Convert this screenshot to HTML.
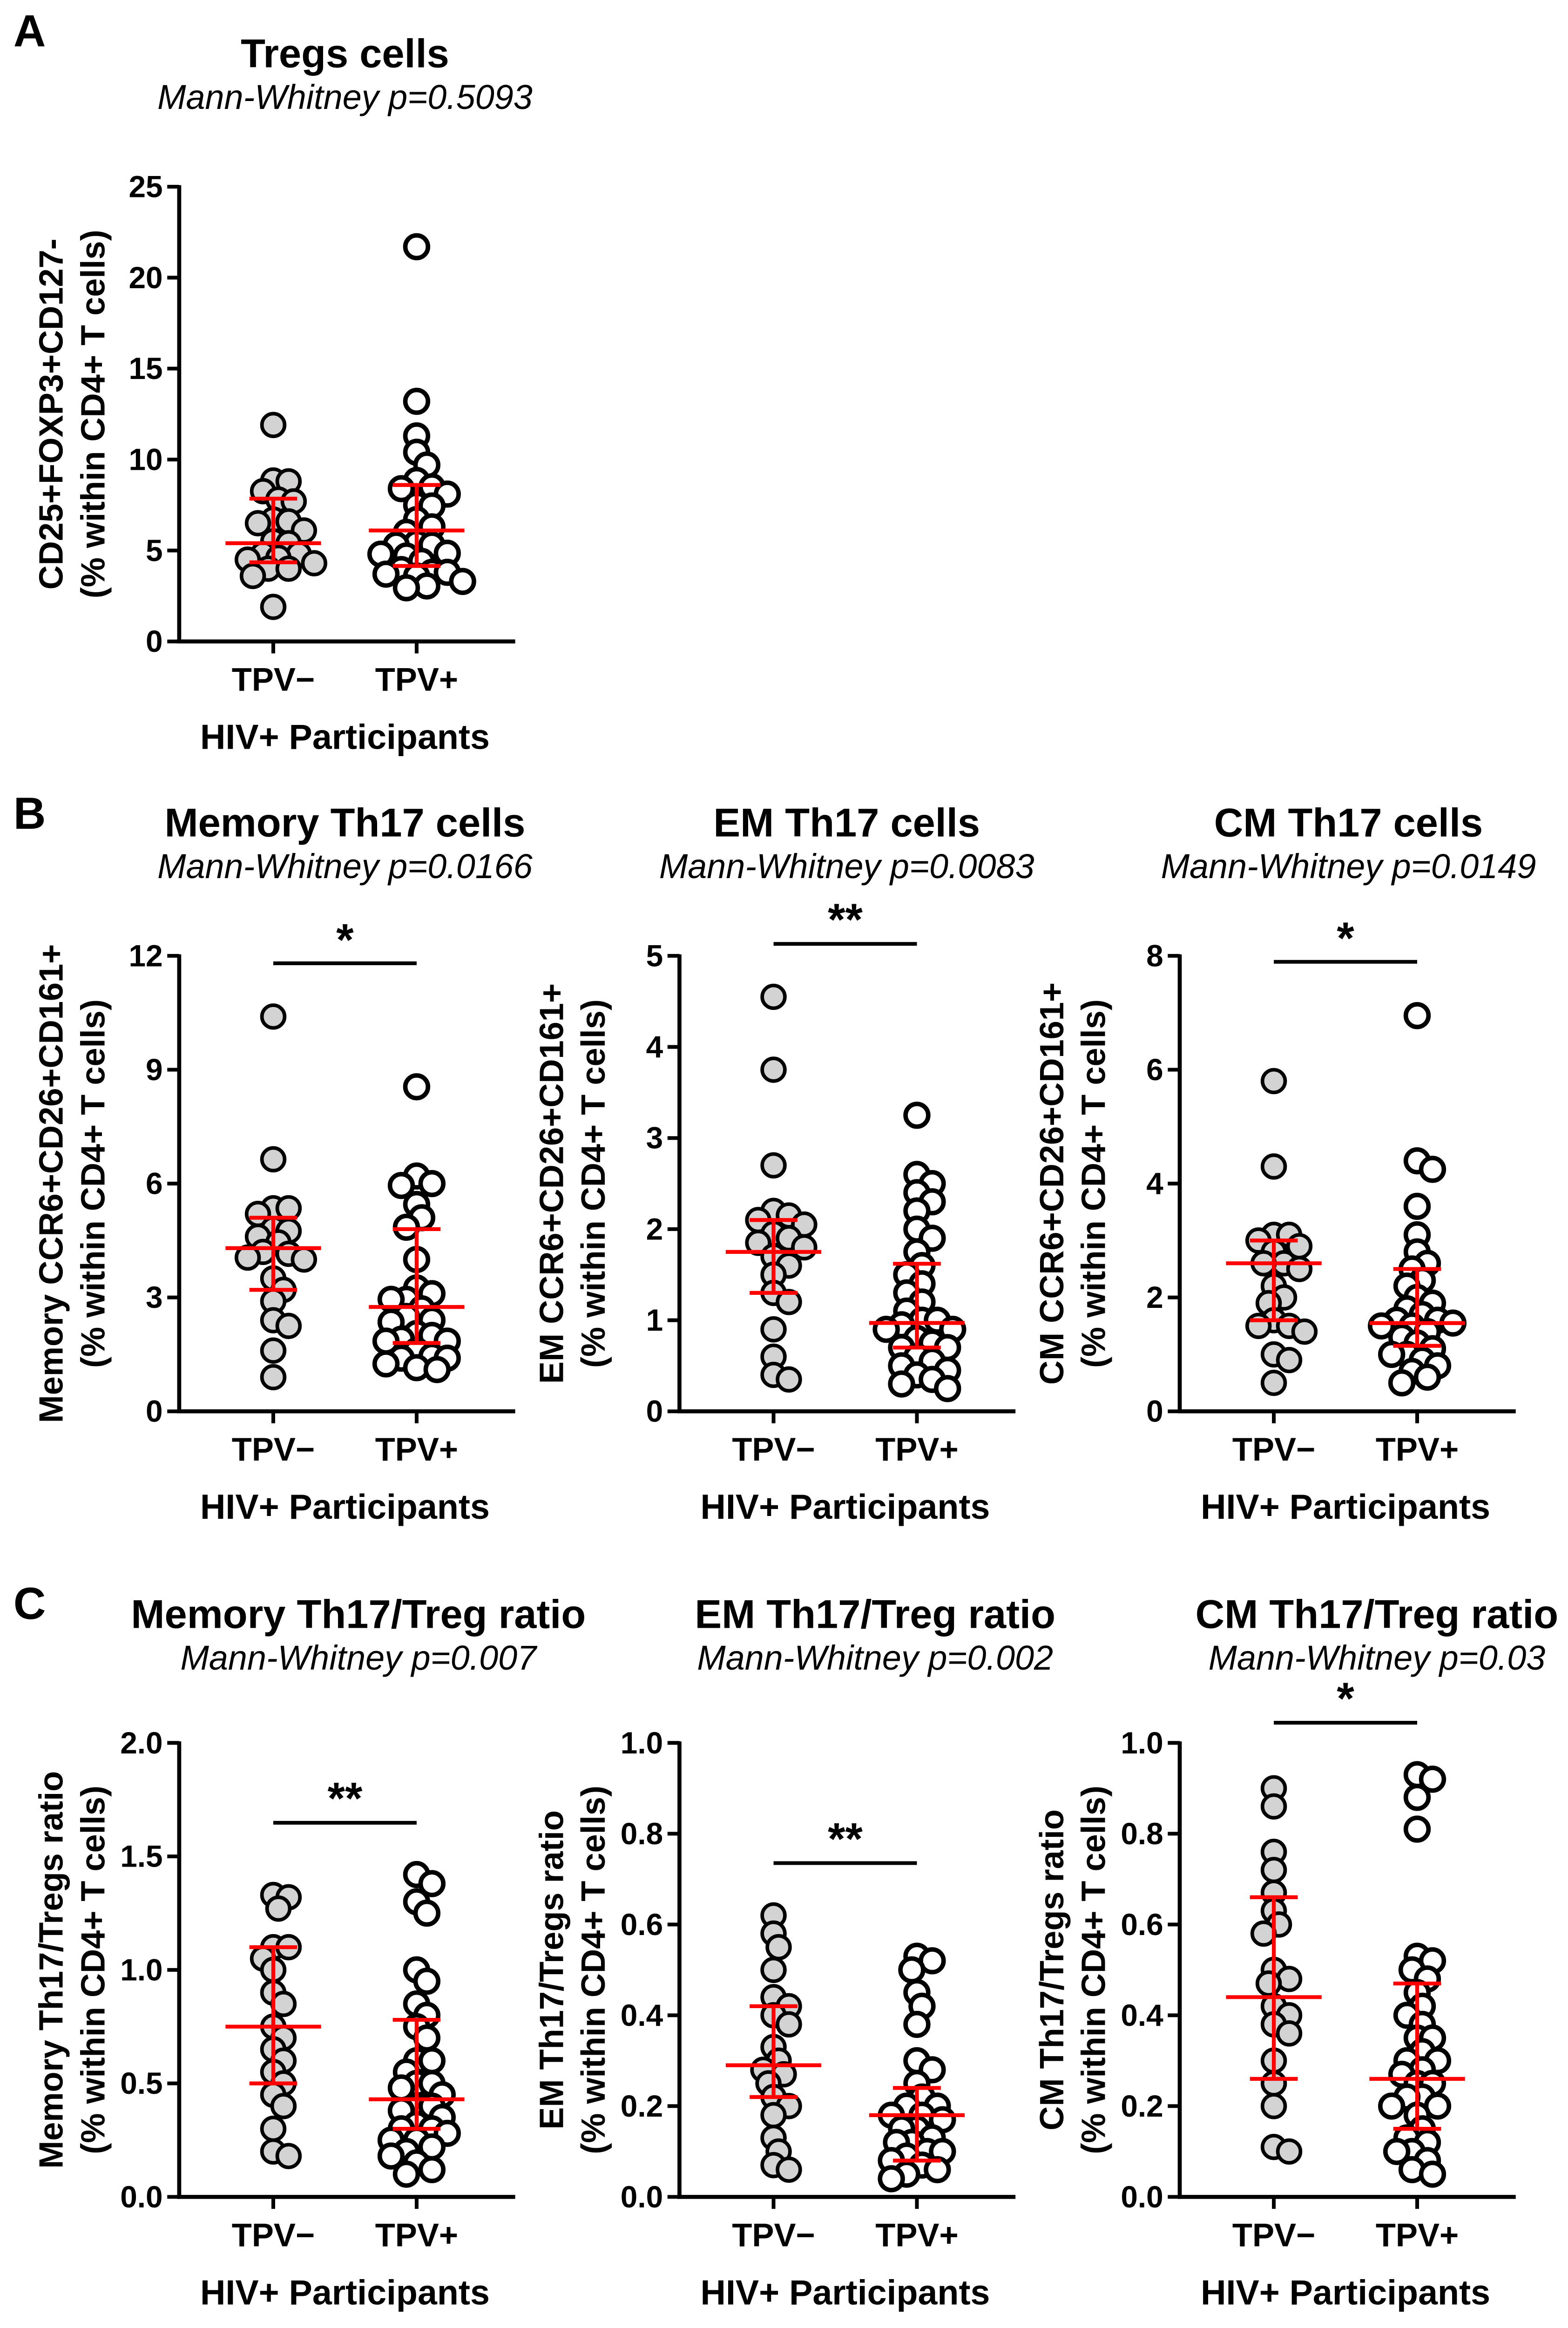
<!DOCTYPE html>
<html><head><meta charset="utf-8"><style>
html,body{margin:0;padding:0;background:#fff;width:3368px;height:5019px;overflow:hidden;}
svg{display:block;}
text{font-family:"Liberation Sans",Arial,sans-serif;}
</style></head><body>
<svg id="fig" xmlns="http://www.w3.org/2000/svg" width="3368" height="5019" viewBox="0 0 1050 1564.7">
<rect width="1050" height="1565" fill="#fff"/>
</svg>
<script>
// ---- data ----
const categories = ["TPV\u2212", "TPV+"];
const aNeg = [11.9,8.85,8.8,8.26,7.7,7.8,6.6,6.5,6.7,6.1,5.5,5.4,4.8,4.8,4.6,4.5,4.3,4.0,4.0,3.6,1.9];
const aPos = [21.7,13.2,11.3,10.4,9.7,8.85,8.4,8.5,8.1,7.5,7.45,6.7,6.3,6.0,5.4,5.3,4.85,4.8,4.7,3.95,3.8,3.8,3.7,3.6,3.3,3.05,2.95,5.3,4.4];
const b1Neg = [10.4,6.64,5.35,5.35,5.2,4.8,4.75,4.6,4.45,4.2,4.15,4.05,4.0,3.5,3.2,2.9,2.4,2.25,1.6,0.9];
const b1Pos = [8.55,6.2,6.0,5.95,5.45,5.1,4.85,4.0,3.25,3.1,2.95,2.95,2.7,2.5,2.4,2.35,2.05,2.0,1.9,1.85,1.85,1.6,1.45,1.4,1.4,1.25,1.15,1.1];
const b2Neg = [4.55,3.75,2.7,2.2,2.15,2.1,2.05,1.95,1.9,1.85,1.8,1.7,1.6,1.5,1.3,1.2,0.9,0.6,0.4,0.35];
const b2Pos = [3.25,2.6,2.5,2.4,2.3,2.2,2.0,1.9,1.75,1.6,1.5,1.4,1.3,1.2,1.1,1.0,1.0,0.95,0.9,0.9,0.8,0.75,0.7,0.7,0.6,0.55,0.5,0.45,0.4,0.35,0.3,0.25];
const b3Neg = [5.8,4.3,3.1,3.1,3.0,2.9,2.8,2.6,2.6,2.5,2.2,2.0,1.9,1.6,1.5,1.5,1.4,1.0,0.9,0.5];
const b3Pos = [6.95,4.4,4.25,3.6,3.1,2.8,2.6,2.5,2.2,2.0,1.9,1.8,1.6,1.55,1.5,1.5,1.4,1.3,1.2,1.1,1.0,1.0,0.9,0.8,0.7,0.6,0.5,1.7,2.3,1.6];
const c1Neg = [1.33,1.32,1.27,1.1,1.1,1.05,1.0,0.9,0.85,0.75,0.7,0.65,0.6,0.55,0.5,0.45,0.4,0.3,0.2,0.18];
const c1Pos = [1.42,1.38,1.3,1.25,1.0,0.95,0.85,0.8,0.75,0.7,0.6,0.55,0.5,0.48,0.45,0.4,0.4,0.38,0.35,0.32,0.3,0.28,0.25,0.22,0.2,0.18,0.15,0.12,0.1,0.5,0.6,0.3,0.25];
const c2Neg = [0.62,0.58,0.55,0.5,0.44,0.42,0.4,0.38,0.33,0.3,0.28,0.27,0.25,0.22,0.2,0.18,0.13,0.1,0.07,0.06];
const c2Pos = [0.53,0.52,0.5,0.45,0.42,0.38,0.3,0.28,0.25,0.22,0.2,0.2,0.18,0.17,0.15,0.13,0.12,0.1,0.1,0.09,0.08,0.07,0.06,0.05,0.04,0.12,0.15,0.18];
const c3Neg = [0.9,0.86,0.76,0.72,0.67,0.63,0.6,0.58,0.5,0.48,0.47,0.42,0.4,0.38,0.36,0.3,0.25,0.2,0.11,0.1];
const c3Pos = [0.93,0.92,0.88,0.81,0.53,0.52,0.5,0.48,0.45,0.42,0.4,0.38,0.35,0.32,0.3,0.28,0.27,0.25,0.22,0.2,0.18,0.15,0.13,0.12,0.1,0.08,0.06,0.05,0.2,0.3,0.35,0.25,0.22,0.1];
// median, q1, q3
const aNegStats=[5.4,4.35,7.85], aPosStats=[6.1,4.15,8.6];
const b1NegStats=[4.3,3.2,5.1], b1PosStats=[2.75,1.8,4.8];
const b2NegStats=[1.75,1.3,2.1], b2PosStats=[0.97,0.7,1.62];
const b3NegStats=[2.6,1.6,3.0], b3PosStats=[1.55,1.15,2.5];
const c1NegStats=[0.75,0.5,1.1], c1PosStats=[0.43,0.3,0.78];
const c2NegStats=[0.29,0.22,0.42], c2PosStats=[0.18,0.08,0.24];
const c3NegStats=[0.44,0.26,0.66], c3PosStats=[0.26,0.15,0.47];
const aTicks=["0","5","10","15","20","25"];
const b1Ticks=["0","3","6","9","12"];
const b2Ticks=["0","1","2","3","4","5"];
const b3Ticks=["0","2","4","6","8"];
const c1Ticks=["0.0","0.5","1.0","1.5","2.0"];
const c2Ticks=["0.0","0.2","0.4","0.6","0.8","1.0"];
const c3Ticks=["0.0","0.2","0.4","0.6","0.8","1.0"];

const NS="http://www.w3.org/2000/svg";
const svg=document.getElementById('fig');
function el(tag,attrs,parent,txt){const e=document.createElementNS(NS,tag);for(const k in attrs)e.setAttribute(k,attrs[k]);if(txt!==undefined)e.textContent=txt;(parent||svg).appendChild(e);return e;}

function swarm(vals,cx,yf,r){
  const pts=vals.map(v=>({v,y:yf(v)})).sort((a,b)=>a.y-b.y);
  const placed=[];const d=2*r*0.62;
  pts.forEach(p=>{
    const cands=[0];for(let k=1;k<14;k++){cands.push(k*r*0.45,-k*r*0.45);}
    for(const off of cands){
      const x=cx+off;
      if(placed.every(q=>Math.hypot(q.x-x,q.y-p.y)>=d)){p.x=x;break;}
    }
    if(p.x===undefined)p.x=cx;
    placed.push(p);
  });
  return placed;
}

function panel(o){
  const g=el('g',{});
  
  
  const x0=o.x0, top=o.top, bot=o.bot, w=225;
  const max=o.max;
  const yf=v=>bot-(v/max)*(bot-top);
  const cxs=[x0+63,x0+159];
  const t=el('text',{x:o.tx,y:o.ty,'text-anchor':'middle','font-size':27,'font-weight':'bold'},g,o.title);
  
  const st=el('text',{x:o.tx,y:o.ty+28,'text-anchor':'middle','font-size':23,'font-style':'italic'},g,o.sub);
  
  const ya=el('line',{x1:x0,y1:top-1,x2:x0,y2:bot+1.3,stroke:'#000','stroke-width':2.7},g);
  
  const xa=el('line',{x1:x0-1.3,y1:bot,x2:x0+w,y2:bot,stroke:'#000','stroke-width':2.7},g);
  
  o.ticks.forEach((tl,i)=>{
    const y=top+(bot-top)*(1-i/(o.ticks.length-1));
    el('line',{x1:x0-8,y1:y,x2:x0,y2:y,stroke:'#000','stroke-width':2.5},g);
    const tt=el('text',{x:x0-11,y:y+7,'text-anchor':'end','font-size':20.5,'font-weight':'bold'},g,tl);
    
  });
  categories.forEach((c,i)=>{
    el('line',{x1:cxs[i],y1:bot,x2:cxs[i],y2:bot+8,stroke:'#000','stroke-width':2.5},g);
    const ct=el('text',{x:cxs[i],y:bot+33,'text-anchor':'middle','font-size':22,'font-weight':'bold'},g,c);
    
  });
  const xt=el('text',{x:x0+111,y:bot+72,'text-anchor':'middle','font-size':23.5,'font-weight':'bold'},g,'HIV+ Participants');
  
  const ymid=(top+bot)/2;
  const yt=el('text',{transform:`translate(${x0-78},${ymid}) rotate(-90)`,'text-anchor':'middle','font-size':22.5,'font-weight':'bold'},g,o.yl1);
  
  const yt2=el('text',{transform:`translate(${x0-50},${ymid}) rotate(-90)`,'text-anchor':'middle','font-size':22.5,'font-weight':'bold'},g,'(% within CD4+ T cells)');
  
  const r=7.6;
  [o.neg,o.pos].forEach((vals,i)=>{
    swarm(vals,cxs[i],yf,r).forEach(p=>{
      const c=el('circle',{cx:p.x,cy:p.y,r:r,fill:i?'#fff':'#d3d3d3',stroke:'#000','stroke-width':i?3:2.4},g);
      
      
    });
  });
  [o.negS,o.posS].forEach((s,i)=>{
    const cx=cxs[i];
    const eg=el('g',{stroke:'#ff0000','stroke-width':2.6},g);
    
    el('line',{x1:cx,y1:yf(s[1]),x2:cx,y2:yf(s[2])},eg);
    el('line',{x1:cx-16,y1:yf(s[1]),x2:cx+16,y2:yf(s[1])},eg);
    el('line',{x1:cx-16,y1:yf(s[2]),x2:cx+16,y2:yf(s[2])},eg);
    el('line',{x1:cx-32,y1:yf(s[0]),x2:cx+32,y2:yf(s[0])},eg);
  });
  if(o.sig){
    const sb=el('line',{x1:cxs[0],y1:o.sigY,x2:cxs[1],y2:o.sigY,stroke:'#000','stroke-width':2.5},g);
    
    const ss=el('text',{x:(cxs[0]+cxs[1])/2,y:o.starY+17,'text-anchor':'middle','font-size':30,'font-weight':'bold'},g,o.sig);
    
  }
}
function letter(t,x,y){const e=el('text',{x,y,'font-size':30,'font-weight':'bold'},svg,t);}
letter('A',9,31);letter('B',9,555);letter('C',9,1084);

panel({name:'panel-a-tregs',x0:120,top:125,bot:429.5,max:25,ticks:aTicks,neg:aNeg,pos:aPos,negS:aNegStats,posS:aPosStats,title:'Tregs cells',sub:'Mann-Whitney p=0.5093',tx:231,ty:45,yl1:'CD25+FOXP3+CD127-'});
const bt=640,bb=945;
panel({name:'panel-b-memory-th17',x0:120,top:bt,bot:bb,max:12,ticks:b1Ticks,neg:b1Neg,pos:b1Pos,negS:b1NegStats,posS:b1PosStats,title:'Memory Th17 cells',sub:'Mann-Whitney p=0.0166',tx:231,ty:560,yl1:'Memory CCR6+CD26+CD161+',sig:'*',sigY:645,starY:622.5});
panel({name:'panel-b-em-th17',x0:455,top:bt,bot:bb,max:5,ticks:b2Ticks,neg:b2Neg,pos:b2Pos,negS:b2NegStats,posS:b2PosStats,title:'EM Th17 cells',sub:'Mann-Whitney p=0.0083',tx:567,ty:560,yl1:'EM CCR6+CD26+CD161+',sig:'**',sigY:632,starY:609});
panel({name:'panel-b-cm-th17',x0:790,top:bt,bot:bb,max:8,ticks:b3Ticks,neg:b3Neg,pos:b3Pos,negS:b3NegStats,posS:b3PosStats,title:'CM Th17 cells',sub:'Mann-Whitney p=0.0149',tx:903,ty:560,yl1:'CM CCR6+CD26+CD161+',sig:'*',sigY:644,starY:621.5});
const ct=1167,cb=1471;
panel({name:'panel-c-memory-ratio',x0:120,top:ct,bot:cb,max:2,ticks:c1Ticks,neg:c1Neg,pos:c1Pos,negS:c1NegStats,posS:c1PosStats,title:'Memory Th17/Treg ratio',sub:'Mann-Whitney p=0.007',tx:240,ty:1090,yl1:'Memory Th17/Tregs ratio',sig:'**',sigY:1220.5,starY:1197.5});
panel({name:'panel-c-em-ratio',x0:455,top:ct,bot:cb,max:1,ticks:c2Ticks,neg:c2Neg,pos:c2Pos,negS:c2NegStats,posS:c2PosStats,title:'EM Th17/Treg ratio',sub:'Mann-Whitney p=0.002',tx:586,ty:1090,yl1:'EM Th17/Tregs ratio',sig:'**',sigY:1247.5,starY:1224.5});
panel({name:'panel-c-cm-ratio',x0:790,top:ct,bot:cb,max:1,ticks:c3Ticks,neg:c3Neg,pos:c3Pos,negS:c3NegStats,posS:c3PosStats,title:'CM Th17/Treg ratio',sub:'Mann-Whitney p=0.03',tx:922,ty:1090,yl1:'CM Th17/Tregs ratio',sig:'*',sigY:1153.5,starY:1130.5});
</script>
</body></html>
